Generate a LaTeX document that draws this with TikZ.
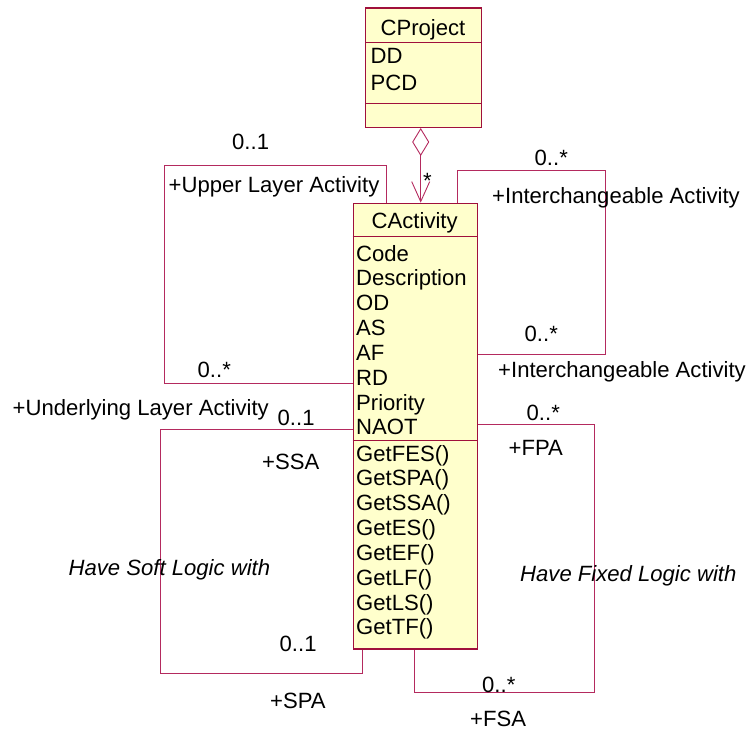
\documentclass[tikz,border=0pt]{standalone}
\usepackage{fontspec}
\setmainfont{Liberation Sans}
\usetikzlibrary{arrows.meta}
\definecolor{umlline}{HTML}{A0103C}
\definecolor{assocline}{HTML}{B42A5E}
\definecolor{umlfill}{HTML}{FFFFCC}
\begin{document}
\begin{tikzpicture}[x=1pt,y=-1pt,
  classbox/.style={draw=umlline, fill=umlfill, line width=1.3pt, inner sep=0pt, anchor=north west, rectangle},
  sepline/.style={draw=umlline, line width=1pt},
  assoc/.style={draw=assocline, line width=0.9pt},
  txt/.style={font=\fontsize{22.1}{24}\selectfont, inner sep=0pt, anchor=base west},
  itxt/.style={font=\fontsize{22.1}{24}\selectfont\itshape, inner sep=0pt, anchor=base west}]
\useasboundingbox (0,0) rectangle (749,733);

% ---- class boxes
\node[classbox, minimum width=116pt, minimum height=119.4pt] (proj) at (365,7.3) {};
\draw[sepline] ([yshift=-35.4pt]proj.north west) -- ([yshift=-35.4pt]proj.north east);
\draw[sepline] ([yshift=-96.7pt]proj.north west) -- ([yshift=-96.7pt]proj.north east);
\node[txt, anchor=base] (projname) at (423,35.7) {CProject};
\node[txt] (pdd) at (370.5,64) {DD};
\node[txt] (ppcd) at (370.5,91) {PCD};

\node[classbox, minimum width=124pt, minimum height=445.6pt] (act) at (352.7,202.7) {};
\draw[sepline] ([yshift=-33.3pt]act.north west) -- ([yshift=-33.3pt]act.north east);
\draw[sepline] ([yshift=-237.3pt]act.north west) -- ([yshift=-237.3pt]act.north east);
\node[txt, anchor=base] (actname) at (414.7,228.3) {CActivity};
\foreach \t [count=\i] in {Code,Description,OD,AS,AF,RD,Priority,NAOT}
  \node[txt] (attr\i) at (356,{261+24.85*(\i-1)}) {\t};
\foreach \t [count=\i] in {GetFES(),GetSPA(),GetSSA(),GetES(),GetEF(),GetLF(),GetLS(),GetTF()}
  \node[txt] (meth\i) at (356,{461+24.85*(\i-1)}) {\t};

% ---- aggregation
\coordinate (agg) at (420.7,0);
\draw[assoc, {Diamond[open, length=28pt, width=17pt]}-{Straight Barb[length=20pt, width=18pt]}]
  (proj.south -| agg) -- (act.north -| agg);
\node[txt] (aggm) at (423,188.5) {*};

% ---- Upper / underlying layer loop
\coordinate (ulTR) at (386,165.7);
\coordinate (ulBL) at (164,383.3);
\draw[assoc] (act.north -| ulTR) -- (ulTR) -| (ulBL) -- (act.west |- ulBL);
\node[txt] (ul1) at (232,149.3) {0..1};
\node[txt] (ul2) at (168.5,192.3) {+Upper Layer Activity};
\node[txt] (ul3) at (197.5,377.7) {0..*};
\node[txt] (ul4) at (12.5,415) {+Underlying Layer Activity};

% ---- Interchangeable loop
\coordinate (icTL) at (457.7,170);
\coordinate (icBR) at (605.7,354.3);
\draw[assoc] (act.north -| icTL) -- (icTL) -| (icBR) -- (act.east |- icBR);
\node[txt] (ic1) at (534.5,165) {0..*};
\node[txt] (ic2) at (492,203.3) {+Interchangeable Activity};
\node[txt] (ic3) at (524.5,341.7) {0..*};
\node[txt] (ic4) at (498,377.3) {+Interchangeable Activity};

% ---- Soft logic loop
\coordinate (sTL) at (160,429.3);
\coordinate (sBR) at (362.3,673.3);
\draw[assoc] (act.west |- sTL) -- (sTL) |- (sBR) -- (act.south -| sBR);
\node[txt] (s1) at (277.5,425) {0..1};
\node[txt] (s2) at (262,469.3) {+SSA};
\node[itxt] (s3) at (68.5,575) {Have Soft Logic with};
\node[txt] (s4) at (279.5,651.7) {0..1};
\node[txt] (s5) at (270,708.3) {+SPA};

% ---- Fixed logic loop
\coordinate (fTR) at (594.3,424.3);
\coordinate (fBL) at (414.3,692.7);
\draw[assoc] (act.east |- fTR) -- (fTR) |- (fBL) -- (act.south -| fBL);
\node[txt] (f1) at (526.5,420) {0..*};
\node[txt] (f2) at (508.5,455) {+FPA};
\node[itxt] (f3) at (520,581.7) {Have Fixed Logic with};
\node[txt] (f4) at (482,692.3) {0..*};
\node[txt] (f5) at (470,726) {+FSA};
\end{tikzpicture}
\end{document}
